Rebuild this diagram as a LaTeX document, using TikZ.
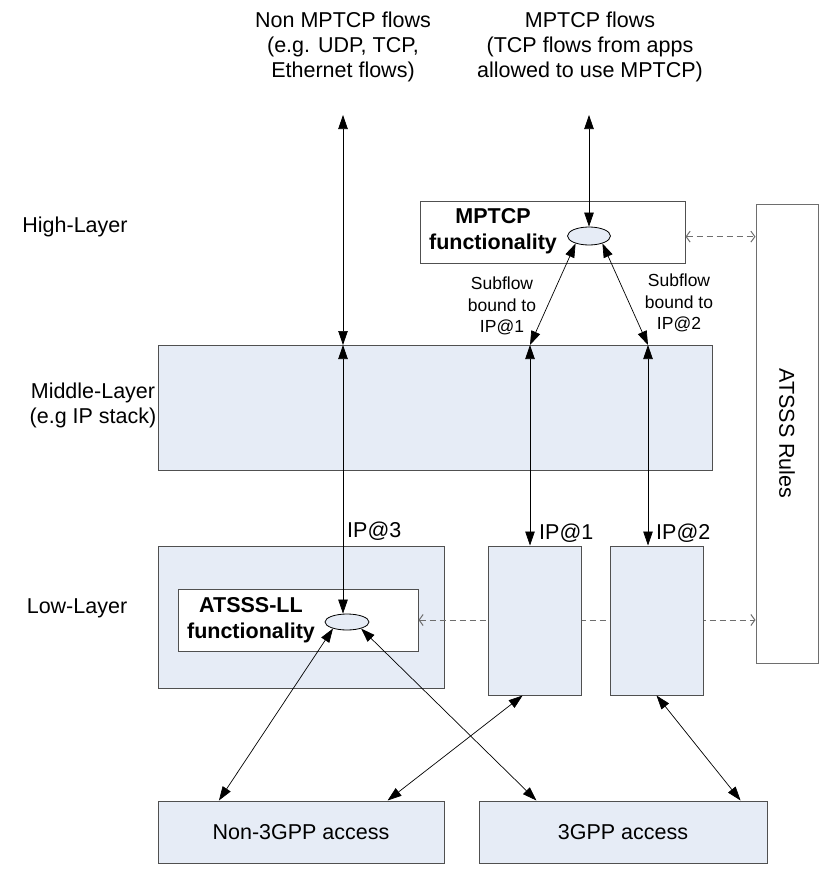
\documentclass[tikz,border=0pt]{standalone}
\usepackage{fontspec}
\setmainfont{Liberation Sans}
\usetikzlibrary{arrows.meta,shapes.geometric}
\definecolor{layerfill}{RGB}{230,236,246}
\definecolor{edgegray}{RGB}{80,80,80}
\definecolor{dashgray}{RGB}{110,110,110}

\begin{document}
\begin{tikzpicture}[x=1pt,y=-1pt,
  font=\fontsize{21.5}{25}\selectfont,
  layer/.style={rectangle,draw=edgegray,fill=layerfill,line width=1pt,inner sep=0pt},
  func/.style={rectangle,draw=edgegray,fill=white,line width=1pt,inner sep=0pt},
  blob/.style={ellipse,draw=black,fill=layerfill,line width=0.8pt,inner sep=0pt},
  boldname/.style={align=center,font=\fontsize{21.5}{26}\selectfont\bfseries},
  subname/.style={align=center,font=\fontsize{17.5}{21.5}\selectfont},
  dbl/.style={{Triangle[length=14pt,width=9.5pt]}-{Triangle[length=14pt,width=9.5pt]},line width=0.7pt},
  ctl/.style={{Straight Barb[length=4pt,width=11pt]}-{Straight Barb[length=4pt,width=11pt]},dash pattern=on 6pt off 4pt,draw=dashgray,line width=1pt}]
\useasboundingbox (0,0) rectangle (822,870);

\draw
(343,47) node[align=center](nonmp){Non MPTCP flows\\(e.g. UDP, TCP,\\Ethernet flows)}
(590,47) node[align=center](mp){MPTCP flows\\(TCP flows from apps\\allowed to use MPTCP)}
(75,227) node(high){High-Layer}
(93,405) node[align=center](middle){Middle-Layer\\(e.g IP stack)}
(77,608) node(low){Low-Layer}
(552.5,232) node[func,minimum width=265pt,minimum height=62pt](mptcp){}
(493,231) node[boldname](mptcpname){MPTCP\\functionality}
(589,236) node[blob,minimum width=43pt,minimum height=18pt](mpell){}
(787,433.5) node[func,draw=dashgray,minimum width=62pt,minimum height=459pt](rules){}
(787,433.5) node[rotate=-90](rulesname){ATSSS Rules}
(435,407.5) node[layer,minimum width=554pt,minimum height=125pt](ipstack){}
(301,617) node[layer,minimum width=286pt,minimum height=142pt](lowbox){}
(298,620) node[func,minimum width=240pt,minimum height=62pt](ll){}
(251,620) node[boldname](llname){ATSSS-LL\\functionality}
(347,622) node[blob,minimum width=44pt,minimum height=16pt](llell){}
(301,832) node[layer,minimum width=286pt,minimum height=62pt](non3gpp){Non-3GPP access}
(623,832) node[layer,minimum width=288pt,minimum height=62pt](gpp){3GPP access}
(347,531) node[anchor=west,inner sep=0pt](ip3lbl){IP@3}
(539,533) node[anchor=west,inner sep=0pt](ip1lbl){IP@1}
(656,533) node[anchor=west,inner sep=0pt](ip2lbl){IP@2}
(502,306) node[subname](sf1){Subflow\\bound to\\IP@1}
(679,303) node[subname](sf2){Subflow\\bound to\\IP@2};

\draw[ctl] (ll.east) -- (ll.east -| rules.west);

\draw
(534.5,620.5) node[layer,minimum width=93pt,minimum height=149pt](ip1){}
(656.5,620.5) node[layer,minimum width=93pt,minimum height=149pt](ip2){};

\coordinate (t1) at (343,115);
\coordinate (t2) at (589,115);
\coordinate (m3) at (343,345);
\coordinate (m1) at (530,345);
\coordinate (m2) at (648,345);

\draw[dbl] (t1) -- (m3);
\draw[dbl] (t2) -- (t2 |- mpell.north);
\draw[dbl] (mpell.209) -- (m1);
\draw[dbl] (mpell.331) -- (m2);
\draw[dbl] (m3) -- (m3 |- llell.north);
\draw[dbl] (m1) -- (m1 |- ip1.north);
\draw[dbl] (m2) -- (m2 |- ip2.north);
\draw[ctl] (mptcp.-2.6) -- (mptcp.-2.6 -| rules.west);
\draw[dbl] (llell.205) -- (non3gpp.159);
\draw[dbl] (llell.335) -- (gpp.160.6);
\draw[dbl] (ip1.261) -- (non3gpp.20);
\draw[dbl] (ip2.south) -- (gpp.15);
\end{tikzpicture}
\end{document}
